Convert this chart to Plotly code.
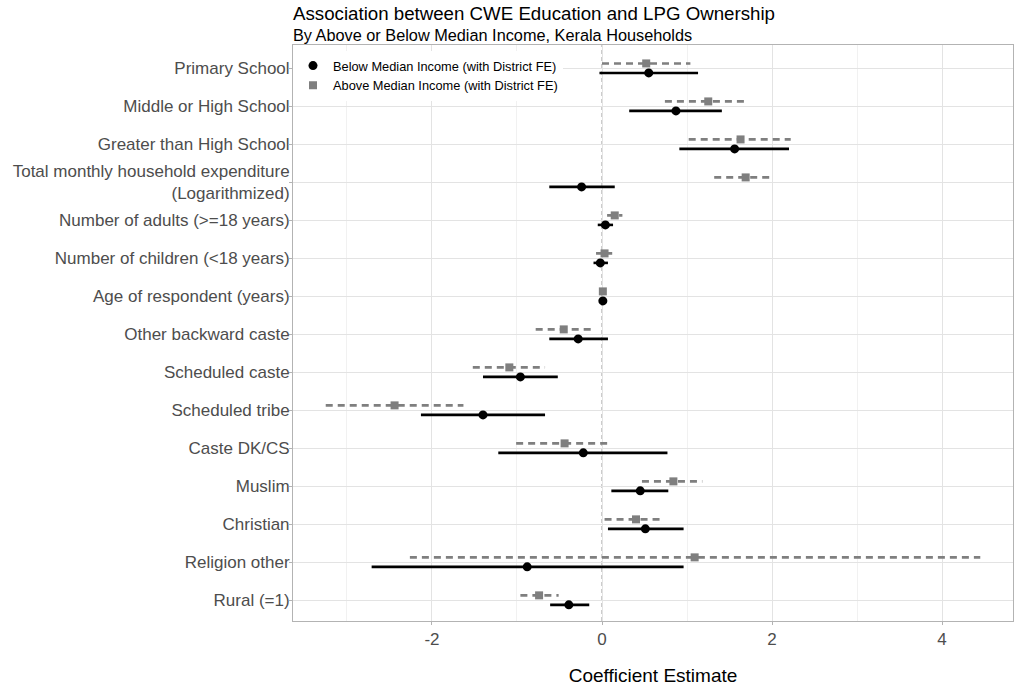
import plotly.graph_objects as go
import numpy as np

categories = [
    "Primary School",
    "Middle or High School",
    "Greater than High School",
    "Total monthly household expenditure<br>(Logarithmized)",
    "Number of adults (>=18 years)",
    "Number of children (<18 years)",
    "Age of respondent (years)",
    "Other backward caste",
    "Scheduled caste",
    "Scheduled tribe",
    "Caste DK/CS",
    "Muslim",
    "Christian",
    "Religion other",
    "Rural (=1)",
]

# Below median income (black, solid)
below_est = [0.55, 0.87, 1.56, -0.24, 0.04, -0.02, 0.01, -0.28, -0.96, -1.40, -0.22, 0.45, 0.51, -0.88, -0.39]
below_lo = [-0.03, 0.32, 0.91, -0.62, -0.05, -0.10, 0.00, -0.62, -1.40, -2.13, -1.22, 0.11, 0.07, -2.71, -0.61]
below_hi = [1.13, 1.41, 2.20, 0.15, 0.13, 0.07, 0.02, 0.07, -0.52, -0.67, 0.77, 0.78, 0.96, 0.96, -0.15]

# Above median income (gray, dashed)
above_est = [0.52, 1.25, 1.63, 1.69, 0.15, 0.03, 0.01, -0.45, -1.09, -2.44, -0.44, 0.84, 0.40, 1.09, -0.74]
above_lo = [0.00, 0.74, 1.02, 1.32, 0.06, -0.07, 0.00, -0.78, -1.52, -3.25, -1.01, 0.47, 0.03, -2.26, -0.96]
above_hi = [1.04, 1.71, 2.22, 2.02, 0.24, 0.12, 0.02, -0.13, -0.67, -1.63, 0.09, 1.18, 0.73, 4.45, -0.51]

below_name = "Below Median Income (with District FE)"
above_name = "Above Median Income (with District FE)"

x_ticks = [-2, 0, 2, 4]
x_minor = [-3, -1, 1, 3]

pos = np.arange(len(categories))
dodge = 0.125
y_above = pos - dodge
y_below = pos + dodge


def seg(lo, hi, ys):
    xs, yy = [], []
    for a, b, y in zip(lo, hi, ys):
        xs += [a, b, None]
        yy += [y, y, None]
    return xs, yy


fig = go.Figure()

xa, ya = seg(above_lo, above_hi, y_above)
fig.add_trace(go.Scatter(x=xa, y=ya, mode="lines", showlegend=False, hoverinfo="skip",
                         line=dict(color="#7f7f7f", width=2.6, dash="7px,5px")))
xb, yb = seg(below_lo, below_hi, y_below)
fig.add_trace(go.Scatter(x=xb, y=yb, mode="lines", showlegend=False, hoverinfo="skip",
                         line=dict(color="black", width=2.6)))

fig.add_trace(go.Scatter(x=below_est, y=y_below, mode="markers", name=below_name,
                         marker=dict(symbol="circle", size=9, color="black")))
fig.add_trace(go.Scatter(x=above_est, y=y_above, mode="markers", name=above_name,
                         marker=dict(symbol="square", size=8, color="#7f7f7f")))

fig.add_vline(x=0, line=dict(color="#999999", width=1, dash="4px,3px"), layer="below")

fig.add_annotation(text="Association between CWE Education and LPG Ownership",
                   xref="paper", yref="paper", x=0, y=1.054, xanchor="left", yanchor="middle",
                   xshift=-2, showarrow=False, font=dict(size=18.7, color="black"))
fig.add_annotation(text="By Above or Below Median Income, Kerala Households",
                   xref="paper", yref="paper", x=0, y=1.017, xanchor="left", yanchor="middle",
                   xshift=-2, showarrow=False, font=dict(size=16.3, color="black"))

fig.update_layout(
    width=1017, height=686,
    margin=dict(l=293, r=4, t=45, b=65),
    paper_bgcolor="white", plot_bgcolor="white",
    font=dict(family="Liberation Sans, Arial, sans-serif", color="#4d4d4d"),
    showlegend=True,
    legend=dict(x=0.0, y=0.99, xanchor="left", yanchor="top", bgcolor="white",
                font=dict(size=12.8, color="black"), itemwidth=30,
                tracegroupgap=0, borderwidth=0),
)

fig.update_xaxes(
    range=[-3.635, 4.835], tickvals=x_ticks, ticktext=[str(v) for v in x_ticks],
    showgrid=True, gridcolor="#e3e3e3", gridwidth=1, zeroline=False,
    minor=dict(tickvals=x_minor, showgrid=True, gridcolor="#f1f1f1", gridwidth=1, ticks=""),
    showline=True, mirror=True, linecolor="#b3b3b3", linewidth=1,
    ticks="outside", ticklen=3, tickcolor="#b3b3b3",
    tickfont=dict(size=17, color="#4d4d4d"),
    title=dict(text="Coefficient Estimate", font=dict(size=19, color="black"), standoff=20),
)
fig.update_yaxes(
    range=[14.55, -0.61], tickvals=pos, ticktext=categories,
    showgrid=True, gridcolor="#e3e3e3", gridwidth=1, zeroline=False,
    showline=True, mirror=True, linecolor="#b3b3b3", linewidth=1,
    ticks="outside", ticklen=3, tickcolor="#b3b3b3", ticklabelstandoff=-4,
    tickfont=dict(size=17, color="#4d4d4d"),
)

fig.write_html("out.html")
